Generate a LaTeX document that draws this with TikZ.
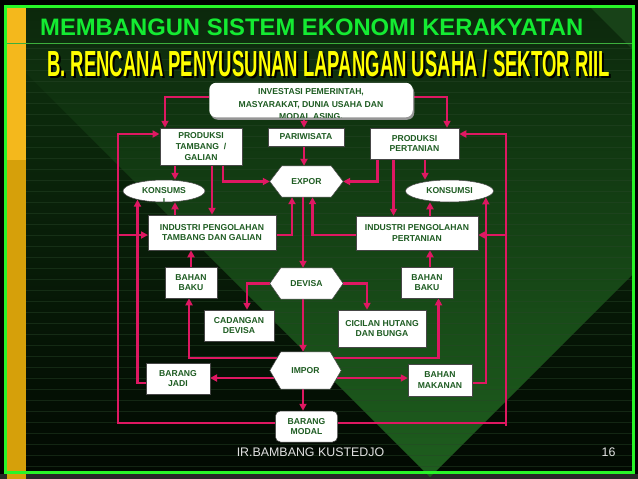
\documentclass[tikz,border=0pt]{standalone}
\usepackage{graphicx}
\usepackage{fontspec}
\setmainfont{Liberation Sans}
\usetikzlibrary{arrows.meta,shapes.geometric}
\pgfdeclarelayer{bg}
\pgfdeclarelayer{edges}
\pgfdeclarelayer{shapes}
\pgfsetlayers{bg,edges,shapes,main}
\definecolor{linkc}{RGB}{222,24,98}
\definecolor{txtg}{RGB}{30,92,34}
\definecolor{frameg}{RGB}{40,245,40}
\definecolor{titleg}{RGB}{20,235,50}
\definecolor{subyel}{RGB}{255,255,0}
\definecolor{orgA}{RGB}{244,184,28}
\definecolor{orgB}{RGB}{214,160,10}
\definecolor{bgA}{RGB}{14,50,14}
\definecolor{bgB}{RGB}{2,9,2}
\definecolor{bandA}{RGB}{12,40,12}
\definecolor{bandB}{RGB}{30,94,30}
\definecolor{boxline}{RGB}{70,70,70}
\definecolor{footc}{RGB}{225,225,225}
\definecolor{bottomgray}{RGB}{40,40,40}
\definecolor{cornerg}{RGB}{24,66,24}
\definecolor{stripec}{RGB}{40,70,40}
\definecolor{rulec}{RGB}{60,175,60}
\definecolor{shadowc}{RGB}{150,150,150}
\newcommand{\mkhex}[2]{\filldraw[hexfill] (#1.west) -- ([xshift=#2pt]#1.north west) -- ([xshift=-#2pt]#1.north east) -- (#1.east) -- ([xshift=-#2pt]#1.south east) -- ([xshift=#2pt]#1.south west) -- cycle;}
\newcommand{\subtitletext}{\scalebox{0.51}[1]{\fontsize{36.3}{36}\selectfont\bfseries B. RENCANA PENYUSUNAN LAPANGAN USAHA / SEKTOR RIIL}}
\begin{document}
\begin{tikzpicture}[x=1pt,y=-1pt,
  boxtxt/.style={font=\fontsize{8.6}{10.8}\selectfont\bfseries, text=txtg, align=center},
  box/.style={boxtxt, draw=boxline, line width=0.5pt, fill=white, inner sep=1pt},
  hexnode/.style={boxtxt, draw=none, fill=none, inner sep=0pt},
  hexfill/.style={fill=white, draw=boxline, line width=0.5pt},
  ellbox/.style={ellipse, draw=boxline, line width=0.5pt, fill=white, inner sep=0pt},
  arr/.style={draw=linkc, line width=2.2pt, -{Triangle[length=7pt,width=7pt]}},
  plain/.style={draw=linkc, line width=2.2pt},
  stripe/.style={draw=stripec, line width=0.6pt, opacity=0.45}
]
\useasboundingbox (0,0) rectangle (638,479);

% ---------- background ----------
\begin{pgfonlayer}{bg}
\fill[black] (0,0) rectangle (638,479);
\fill[bottomgray] (0,474) rectangle (638,479);
\shade[top color=bgA, bottom color=bgB] (26,7) rectangle (634,473);
\shade[top color=bandA, bottom color=bandB] (26,73) -- (26,7) -- (590,7) -- (634,51) -- (634,273) -- (430,477) -- cycle;
\fill[cornerg] (590,7) -- (634,7) -- (634,51) -- cycle;
\foreach \yy in {48,59,...,470} \draw[stripe] (26,\yy) -- (634,\yy);
\fill[orgA] (7,7) rectangle (26,160);
\fill[orgB] (7,160) rectangle (26,479);
\draw[rulec, line width=1pt] (6,43) -- (634,43);
\draw[frameg, line width=3pt] (5,6) rectangle (633,472);
\end{pgfonlayer}

% ---------- titles ----------
\node[anchor=base west, inner sep=0pt, font=\fontsize{23.8}{24}\selectfont\bfseries, text=titleg] (title) at (40,35) {MEMBANGUN SISTEM EKONOMI KERAKYATAN};
\node[anchor=base west, inner sep=0pt, text=black] (subshadow) at (49,78.2) {\subtitletext};
\node[anchor=base west, inner sep=0pt, text=subyel] (subtitle) at (47,76.5) {\subtitletext};

% ---------- nodes ----------
\node[box, draw=none, fill=none, rounded corners=7pt, minimum width=203pt, minimum height=34pt] (invest) at (311,100) {};
\node[box, minimum width=82.5pt, minimum height=37pt] (prodT) at (201,146.5) {PRODUKSI\\TAMBANG ~/\\GALIAN};
\node[box, minimum width=75.5pt, minimum height=18pt] (pariw) at (306,137) {PARIWISATA};
\node[box, minimum width=89pt, minimum height=31pt] (prodP) at (414.5,143.5) {PRODUKSI\\PERTANIAN};
\node[hexnode, minimum width=73pt, minimum height=31pt] (expor) at (306.5,181.5) {EXPOR};
\node[ellbox, minimum width=82pt, minimum height=22pt] (konsL) at (164,191) {};
\node[ellbox, boxtxt, minimum width=88pt, minimum height=22pt] (konsR) at (449.5,191) {KONSUMSI};
\node[box, minimum width=127.5pt, minimum height=35pt] (indT) at (212,232.5) {INDUSTRI PENGOLAHAN\\TAMBANG DAN GALIAN};
\node[box, minimum width=122pt, minimum height=34pt] (indP) at (417,233) {INDUSTRI PENGOLAHAN\\PERTANIAN};
\node[box, minimum width=51.5pt, minimum height=31pt] (bakuL) at (191,282.5) {BAHAN\\BAKU};
\node[hexnode, minimum width=73pt, minimum height=31pt] (devisa) at (306.5,283.5) {DEVISA};
\node[box, minimum width=51.5pt, minimum height=31pt] (bakuR) at (427,282.5) {BAHAN\\BAKU};
\node[box, minimum width=69.5pt, minimum height=31pt] (cadangan) at (239,325.5) {CADANGAN\\DEVISA};
\node[box, minimum width=87.5pt, minimum height=37pt] (cicilan) at (382,328.5) {CICILAN HUTANG\\DAN BUNGA};
\node[hexnode, minimum width=71pt, minimum height=37pt] (impor) at (305.5,370.5) {IMPOR};
\node[box, minimum width=63.5pt, minimum height=31pt] (jadi) at (178,378.5) {BARANG\\JADI};
\node[box, minimum width=64pt, minimum height=32pt] (makanan) at (440,380) {BAHAN\\MAKANAN};
\node[box, rounded corners=5pt, minimum width=62pt, minimum height=31pt] (modal) at (306.5,426.5) {BARANG\\MODAL};

% investasi box with clipped text
\begin{pgfonlayer}{shapes}
\fill[shadowc, rounded corners=7pt] ([shift={(1.5,2.5)}]invest.south west) rectangle ([shift={(1.5,2.5)}]invest.north east);
\fill[white, rounded corners=7pt] (invest.south west) rectangle (invest.north east);
\mkhex{expor}{12}
\mkhex{devisa}{11}
\mkhex{impor}{11}
\end{pgfonlayer}
\begin{scope}
\clip[rounded corners=7pt] (invest.south west) rectangle (invest.north east);
\node[boxtxt, font=\fontsize{8.6}{12.5}\selectfont\bfseries, inner sep=0pt] (investtxt) at (311,104.5) {INVESTASI PEMERINTAH,\\MASYARAKAT, DUNIA USAHA DAN\\MODAL ASING.};
\end{scope}
\begin{scope}
\clip (konsL.center) ellipse [x radius=40.7pt, y radius=10.7pt];
\node[boxtxt, inner sep=0pt, font=\fontsize{8.6}{11}\selectfont\bfseries] (konsLtxt) at (164,195.5) {KONSUMS\\I};
\end{scope}

% ---------- footer ----------
\node[font=\fontsize{12.4}{13}\selectfont, text=footc, inner sep=0pt] (author) at (310.5,452.5) {IR.BAMBANG KUSTEDJO};
\node[font=\fontsize{12.4}{13}\selectfont, text=footc, inner sep=0pt] (page) at (608.5,452.5) {16};

% ---------- connectors ----------
\begin{pgfonlayer}{edges}
\draw[arr] (invest.west |- 0,97) -| (prodT.north -| 165,0);
\draw[arr] (invest.east |- 0,97) -| (prodP.north -| 447,0);
\draw[arr] (invest.south -| 304,0) -- (pariw.north -| 304,0);
\draw[arr] (pariw.south -| 304,0) -- (expor.north -| 304,0);
\draw[arr] (prodT.south -| 223,0) |- (expor.west);
\draw[arr] (prodP.south -| 377.5,0) |- (expor.east);
\draw[arr] (prodT.south -| 175,0) -- (175,0 |- konsL.north);
\draw[arr] (prodT.south -| 212,0) -- (indT.north -| 212,0);
\draw[arr] (indT.north -| 175,0) -- (175,0 |- konsL.south);
\draw[arr] (modal.west |- 0,423) -| (118,134) -- (prodT.west |- 0,134);
\draw[arr] (118,235) -- (indT.west |- 0,235);
\draw[plain] (modal.east |- 0,423) -- (506,423);
\draw[arr] (506,426) -- (506,134) -- (prodP.east |- 0,134);
\draw[arr] (506,235) -- (indP.east |- 0,235);
\draw[arr] (prodP.south -| 393.5,0) -- (indP.north -| 393.5,0);
\draw[arr] (prodP.south -| 425,0) -- (425,0 |- konsR.north);
\draw[arr] (indP.north -| 430,0) -- (430,0 |- konsR.south);
\draw[arr] (indT.east |- 0,235) -| (292,0 |- expor.south);
\draw[arr] (indP.west |- 0,235) -| (312.5,0 |- expor.south);
\draw[arr] (expor.south -| 303,0) -- (devisa.north -| 303,0);
\draw[arr] (devisa.west) -| (cadangan.north -| 247,0);
\draw[arr] (devisa.east) -| (cicilan.north -| 367,0);
\draw[arr] (devisa.south -| 303,0) -- (impor.north -| 303,0);
\draw[arr] (bakuL.north -| 191,0) -- (indT.south -| 191,0);
\draw[arr] (impor.center |- 0,358) -| (bakuL.south -| 189,0);
\draw[arr] (impor.center |- 0,358) -| (bakuR.south -| 438.5,0);
\draw[arr] (bakuR.north -| 430,0) -- (indP.south -| 430,0);
\draw[arr] (impor.center |- 0,378) -- (jadi.east |- 0,378);
\draw[arr] (impor.center |- 0,378) -- (makanan.west |- 0,378);
\draw[arr] (impor.south -| 303,0) -- (modal.north -| 303,0);
\draw[arr] (jadi.west |- 0,383) -| (konsL.198);
\draw[arr] (makanan.east |- 0,383) -| (konsR.350);
\end{pgfonlayer}
\end{tikzpicture}
\end{document}
